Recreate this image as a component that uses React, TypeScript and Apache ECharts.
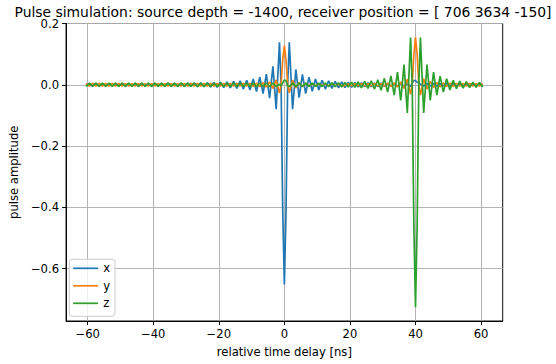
import React, { useEffect, useRef } from 'react';
import * as echarts from 'echarts';

const TITLE = 'Pulse simulation: source depth = -1400, receiver position = [ 706 3634 -150]';
const SERIES_NAMES = ['x', 'y', 'z'];
const COLORS = ['#1f77b4', '#ff7f0e', '#2ca02c'];
const X_TICKS = [-60, -40, -20, 0, 20, 40, 60];
const Y_TICKS = [-0.6, -0.4, -0.2, 0.0, 0.2];
const X_LABEL = 'relative time delay [ns]';
const Y_LABEL = 'pulse amplitude';

// ringing samples read at half-integer delays t = -60.5, -59.5, ..., 60.5 ns
const RING_START = -60.5;
const xRing = [
  -0.0035, 0.0035, -0.0035, 0.0035, -0.0035,
  0.0036, -0.0036, 0.0036, -0.0036, 0.0036,
  -0.0038, 0.0038, -0.0038, 0.0038, -0.0038,
  0.004, -0.004, 0.004, -0.004, 0.004,
  -0.0041, 0.0042, -0.0043, 0.0044, -0.0045,
  0.0046, -0.0047, 0.0048, -0.0049, 0.005,
  -0.0052, 0.0054, -0.0056, 0.0058, -0.006,
  0.0062, -0.0065, 0.0068, -0.007, 0.0075,
  -0.008, 0.0085, -0.009, 0.0095, -0.01,
  0.011, -0.012, 0.013, -0.014, 0.015,
  -0.017, 0.019, -0.022, 0.025, -0.029,
  0.035, -0.044, 0.06, -0.08, 0.139,
  -0.412,
  -0.412,
  0.139, -0.08, 0.05, -0.042, 0.034,
  -0.029, 0.025, -0.021, 0.019, -0.017,
  0.015, -0.014, 0.013, -0.012, 0.011,
  -0.01, 0.0095, -0.009, 0.0085, -0.008,
  0.0075, -0.007, 0.0068, -0.0065, 0.0062,
  -0.006, 0.0058, -0.0056, 0.0054, -0.0052,
  0.005, -0.0049, 0.0048, -0.0047, 0.0046,
  -0.0045, 0.0044, -0.006, 0.014, 0.008,
  0.002, -0.004, 0.004, -0.004, 0.004,
  -0.0038, 0.0038, -0.0038, 0.0038, -0.0038,
  0.0036, -0.0036, 0.0036, -0.0036, 0.0036,
  -0.0035, 0.0035, -0.0035, 0.0035, -0.0035,
];
const yRing = [
  0.004, -0.004, 0.004, -0.004, 0.004,
  -0.004, 0.004, -0.004, 0.004, -0.004,
  0.0038, -0.0038, 0.0038, -0.0038, 0.0038,
  -0.0038, 0.0038, -0.0038, 0.0038, -0.0038,
  0.0038, -0.0038, 0.0038, -0.0038, 0.0038,
  -0.0038, 0.0038, -0.0038, 0.0038, -0.0038,
  0.004, -0.004, 0.004, -0.004, 0.004,
  -0.004, 0.004, -0.004, 0.004, -0.004,
  0.004, -0.004, 0.004, -0.004, 0.004,
  -0.004, 0.004, -0.004, 0.0042, -0.0042,
  0.0045, -0.005, 0.0055, -0.006, 0.0068,
  -0.0078, 0.0095, -0.012, 0.016, -0.027,
  0.082,
  0.08,
  -0.026, 0.015, -0.01, 0.0078, -0.0065,
  0.0055, -0.0048, 0.0042, -0.004, 0.0038,
  -0.0038, 0.0035, -0.0035, 0.003, -0.003,
  0.0025, -0.0025, -0.0025, 0.003, -0.0035,
  0.0035, -0.0035, 0.0035, -0.0035, 0.0035,
  -0.0035, 0.0035, -0.0035, 0.0038, -0.004,
  0.0045, -0.005, 0.006, -0.0072, 0.009,
  -0.012, 0.018, -0.031, 0.098, 0.099,
  -0.034, 0.02, -0.014, 0.011, -0.009,
  0.0078, -0.0068, 0.006, -0.0055, 0.005,
  -0.0048, 0.0045, -0.0042, 0.004, -0.004,
  0.004, -0.0038, 0.0038, -0.0038, 0.0038,
];
const zRing = [
  -0.0055, 0.0055, -0.0055, 0.0055, -0.0055,
  0.0055, -0.0055, 0.0055, -0.0055, 0.0055,
  -0.005, 0.005, -0.005, 0.005, -0.005,
  0.005, -0.005, 0.005, -0.005, 0.005,
  -0.0052, 0.0052, -0.0052, 0.0052, -0.0052,
  0.0052, -0.0052, 0.0052, -0.0052, 0.0052,
  -0.0055, 0.0055, -0.0055, 0.0055, -0.0055,
  0.0055, -0.0055, 0.0055, -0.0055, 0.0055,
  -0.0056, 0.0056, -0.0056, 0.0056, -0.0056,
  0.0056, -0.0056, 0.0056, -0.0056, 0.0056,
  -0.0056, 0.0056, -0.0058, 0.0058, -0.0058,
  0.0058, -0.0058, 0.0058, -0.0055, 0.002,
  0.006,
  0.013,
  -0.006, 0.0055, -0.0055, 0.0055, -0.0055,
  0.0055, -0.0055, 0.0055, -0.0055, 0.0055,
  -0.0056, 0.0058, -0.006, 0.0062, -0.0064,
  0.0066, -0.0068, 0.0072, -0.0076, 0.008,
  -0.0085, 0.009, -0.01, 0.011, -0.012,
  0.013, -0.014, 0.016, -0.018, 0.021,
  -0.024, 0.029, -0.034, 0.041, -0.051,
  0.066, -0.092, 0.154, -0.462, -0.462,
  0.154, -0.092, 0.066, -0.051, 0.041,
  -0.034, 0.028, -0.024, 0.02, -0.017,
  0.015, -0.013, 0.012, -0.011, 0.01,
  -0.009, 0.0085, -0.008, 0.0075, -0.007,
];

// extra samples at the pulse centres
const centreTimes = [-1, 0, 1, 39, 40, 41];
const xCentre = [0, -0.652, 0, 0.006, 0.014, 0.006];
const yCentre = [0, 0.128, 0, 0, 0.155, 0];
const zCentre = [-0.004, 0.016, -0.004, 0, -0.726, 0];

const X_MIN = -66.6;
const X_MAX = 66.6;
const Y_MIN = -0.771;
const Y_MAX = 0.2;

const FONT = 'DejaVu Sans';
const minus = (s: string) => s.replace('-', '\u2212');

function buildSeries(ring: number[], centre: number[]) {
  const pts: number[][] = ring.map((v, i) => [RING_START + i, v]);
  centreTimes.forEach((t, i) => pts.push([t, centre[i]]));
  pts.sort((a, b) => a[0] - b[0]);
  return pts;
}

export default function App() {
  const ref = useRef<HTMLDivElement>(null);
  useEffect(() => {
    document.body.style.margin = '0';
    const chart = echarts.init(ref.current!, null, { renderer: 'svg' });
    const rings = [xRing, yRing, zRing];
    const centres = [xCentre, yCentre, zCentre];
    const gridLeft = 63.3;
    const gridRight = 502.7;
    const gridTop = 23.5;
    const gridBottom = 321;
    const axisCommon = {
      axisLine: { show: true, onZero: false, lineStyle: { color: '#000', width: 0.95 } },
      axisTick: { show: true, inside: false, length: 4, lineStyle: { color: '#000', width: 0.95 } },
      splitLine: { show: true, lineStyle: { color: '#b0b0b0', width: 0.95 } },
      nameTextStyle: { color: '#000', fontSize: 11.6, fontFamily: FONT },
    };
    chart.setOption({
      animation: false,
      backgroundColor: '#fff',
      textStyle: { fontFamily: FONT },
      grid: {
        left: gridLeft,
        top: gridTop,
        width: gridRight - gridLeft,
        height: gridBottom - gridTop,
        show: true,
        borderColor: '#000',
        borderWidth: 0.95,
        backgroundColor: 'transparent',
      },
      xAxis: {
        type: 'value',
        min: X_MIN,
        max: X_MAX,
        ...axisCommon,
        axisTick: { ...axisCommon.axisTick, customValues: X_TICKS },
        axisLabel: {
          customValues: X_TICKS,
          margin: 7,
          color: '#000',
          fontSize: 11.6,
          fontFamily: FONT,
          formatter: (v: number) => minus(String(v)),
        },
        name: X_LABEL,
        nameLocation: 'middle',
        nameGap: 25,
      },
      yAxis: {
        type: 'value',
        min: Y_MIN,
        max: Y_MAX,
        ...axisCommon,
        axisTick: { ...axisCommon.axisTick, customValues: Y_TICKS },
        axisLabel: {
          customValues: Y_TICKS,
          margin: 7,
          color: '#000',
          fontSize: 11.6,
          fontFamily: FONT,
          formatter: (v: number) => (Math.abs(v) < 1e-9 ? '0.0' : minus(v.toFixed(1))),
        },
        name: Y_LABEL,
        nameLocation: 'middle',
        nameGap: 42,
        nameRotate: 90,
      },
      legend: {
        orient: 'vertical',
        left: 69.3,
        top: 259.3,
        data: SERIES_NAMES,
        itemWidth: 25,
        itemHeight: 12,
        itemGap: 5.5,
        itemTextGap: 10,
        padding: [3, 5, 7, 3],
        backgroundColor: 'rgba(255,255,255,0.8)',
        borderColor: '#cccccc',
        borderWidth: 1,
        borderRadius: 3,
        itemStyle: { opacity: 0 },
        lineStyle: { width: 1.7 },
        textStyle: { color: '#000', fontSize: 11.6, fontFamily: FONT },
      },
      graphic: [
        {
          type: 'text',
          x: (gridLeft + gridRight) / 2,
          y: 12,
          style: {
            text: TITLE,
            align: 'center',
            verticalAlign: 'middle',
            fill: '#000',
            fontSize: 13.9,
            fontFamily: FONT,
          },
        },
      ],
      series: SERIES_NAMES.map((name, k) => ({
        name,
        type: 'line',
        data: buildSeries(rings[k], centres[k]),
        symbol: 'none',
        showSymbol: false,
        lineStyle: { color: COLORS[k], width: 1.7 },
        itemStyle: { color: COLORS[k] },
        emphasis: { disabled: true },
        clip: true,
      })),
    });
    return () => chart.dispose();
  }, []);
  return (
    <div
      ref={ref}
      style={{ position: 'fixed', left: 0, top: 0, width: 556, height: 364, background: '#fff' }}
    />
  );
}
